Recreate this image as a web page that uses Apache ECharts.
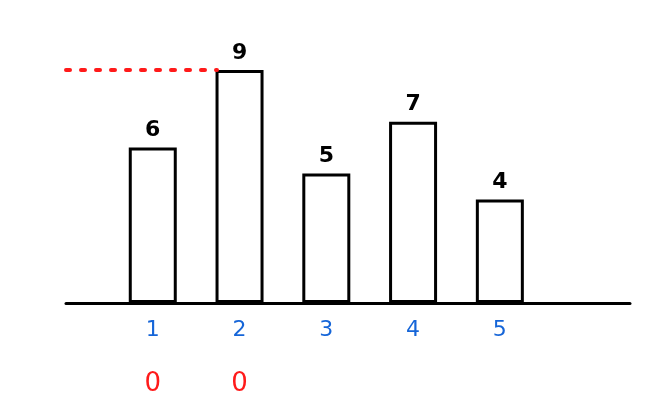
<!DOCTYPE html>
<html><head><meta charset="utf-8">
<script src="https://cdn.jsdelivr.net/npm/echarts@6/dist/echarts.min.js"></script>
<style>html,body{margin:0;padding:0;background:#fff}#c{width:650px;height:401px}</style>
</head><body><div id="c"></div>
<script>
const categories = [1, 2, 3, 4, 5];
const values = [6, 9, 5, 7, 4];
const secondRow = ['0', '0', '', '', ''];
const refLineValue = 9;

const chart = echarts.init(document.getElementById('c'), null, {renderer: 'canvas'});
const font = '"DejaVu Sans", sans-serif';
chart.setOption({
  animation: false,
  backgroundColor: '#fff',
  grid: {left: 66, right: 20, top: 44, bottom: 98},
  xAxis: {
    type: 'value', min: 0, max: 6.5, interval: 1,
    splitLine: {show: false},
    axisLine: {show: true, lineStyle: {color: '#000', width: 3}},
    axisTick: {show: false},
    axisLabel: {
      margin: 16,
      formatter: function (v) {
        const i = categories.indexOf(v);
        if (i < 0) return '';
        return '{n|' + categories[i] + '}' + (secondRow[i] ? '\n{z|' + secondRow[i] + '}' : '');
      },
      rich: {
        n: {color: '#1565d8', fontSize: 22, fontFamily: font, lineHeight: 50, verticalAlign: 'top'},
        z: {color: '#ff1a1a', fontSize: 26, fontFamily: font, lineHeight: 30}
      }
    }
  },
  yAxis: {type: 'value', min: 0, max: 10, show: false, splitLine: {show: false}},
  series: [{
    type: 'bar',
    barWidth: 48,
    data: categories.map((c, i) => [c, values[i]]),
    itemStyle: {color: '#fff', borderColor: '#000', borderWidth: 3},
    label: {show: true, position: 'top', color: '#000', fontSize: 22, fontWeight: 'bold', fontFamily: font, distance: 6},
    markLine: {
      symbol: 'none', silent: true,
      label: {show: false},
      lineStyle: {color: '#ff1a1a', type: [4, 11], width: 4, cap: 'round'},
      data: [[{coord: [0, refLineValue]}, {coord: [1.74, refLineValue]}]]
    }
  }]
});
</script></body></html>
